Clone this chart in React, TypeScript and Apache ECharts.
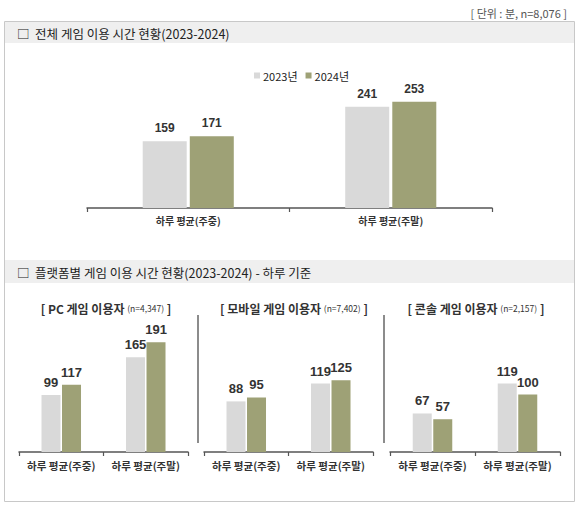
import React, { useEffect, useRef } from "react";
import * as echarts from "echarts";

const categories = ["하루 평균(주중)", "하루 평균(주말)"];
const years = ["2023년", "2024년"];
const overall2023 = [159, 241];
const overall2024 = [171, 253];
const pc2023 = [99, 165];
const pc2024 = [117, 191];
const mobile2023 = [88, 119];
const mobile2024 = [95, 125];
const console2023 = [67, 119];
const console2024 = [57, 100];
const platformNames = ["PC 게임 이용자", "모바일 게임 이용자", "콘솔 게임 이용자"];
const platformN = ["n=4,347", "n=7,402", "n=2,157"];
const headerTop = "□  전체 게임 이용 시간 현황(2023-2024)";
const headerBottom = "□  플랫폼별 게임 이용 시간 현황(2023-2024) - 하루 기준";
const unitText = "[ 단위 : 분, n=8,076 ]";

const GRAY = "#d9d9d9";
const GREEN = "#9ea176";
const FONT = "'Noto Sans CJK KR', sans-serif";
const NUMFONT = "'Liberation Sans', Arial, sans-serif";

export default function App() {
  const ref = useRef<HTMLDivElement>(null);
  useEffect(() => {
    document.body.style.margin = "0";
    const chart = echarts.init(ref.current!, null, { renderer: "svg" });

    const grids = [
      { left: 87, width: 405, top: 82, height: 126 },
      { left: 19, width: 169, top: 337, height: 115 },
      { left: 204, width: 169, top: 337, height: 115 },
      { left: 390, width: 170, top: 337, height: 115 },
    ];
    const maxes = [300, 200, 200, 200];
    const data = [
      [overall2023, overall2024],
      [pc2023, pc2024],
      [mobile2023, mobile2024],
      [console2023, console2024],
    ];

    const xAxes = grids.map((_, i) => ({
      type: "category",
      gridIndex: i,
      data: categories,
      axisLine: { lineStyle: { color: "#555", width: 1.5 } },
      axisTick: { show: true, length: 4, lineStyle: { color: "#555", width: 1.2 } },
      axisLabel: {
        interval: 0,
        hideOverlap: false,
        margin: i === 0 ? 7 : 8,
        color: "#333",
        fontSize: i === 0 ? 10 : 10.5,
        fontWeight: "bold",
        fontFamily: FONT,
      },
    }));
    const yAxes = grids.map((_, i) => ({
      type: "value",
      gridIndex: i,
      min: 0,
      max: maxes[i],
      show: false,
      splitLine: { show: false },
    }));

    const series: any[] = [];
    data.forEach((pair, i) => {
      pair.forEach((vals, j) => {
        series.push({
          type: "bar",
          name: years[j],
          xAxisIndex: i,
          yAxisIndex: i,
          data: vals,
          barWidth: i === 0 ? 44 : 19,
          barGap: i === 0 ? "7%" : "8%",
          itemStyle: { color: j === 0 ? GRAY : GREEN },
          label: {
            show: true,
            position: "top",
            distance: i === 0 ? 7 : 6,
            color: "#333",
            fontSize: i === 0 ? 12 : 13,
            fontWeight: "bold",
            fontFamily: NUMFONT,
          },
        });
      });
    });

    const titleCenters = [106, 294, 476];
    const graphic: any[] = [
      {
        type: "rect",
        shape: { x: 4.5, y: 21.5, width: 570, height: 480 },
        style: { fill: "#fff", stroke: "#c8c8c8", lineWidth: 1 },
        z: -10,
      },
      {
        type: "rect",
        shape: { x: 5, y: 22, width: 569, height: 21 },
        style: { fill: "#efefef" },
        z: -9,
      },
      {
        type: "rect",
        shape: { x: 5, y: 260, width: 569, height: 23 },
        style: { fill: "#efefef" },
        z: -9,
      },
      {
        type: "text",
        x: 17,
        y: 33,
        style: {
          text: headerTop,
          fill: "#222",
          font: `12.5px ${FONT}`,
          verticalAlign: "middle",
        },
      },
      {
        type: "text",
        x: 17,
        y: 272,
        style: {
          text: headerBottom,
          fill: "#222",
          font: `12.5px ${FONT}`,
          verticalAlign: "middle",
        },
      },
      {
        type: "text",
        x: 567,
        y: 13,
        style: {
          text: unitText,
          fill: "#555",
          font: `11px ${FONT}`,
          align: "right",
          verticalAlign: "middle",
        },
      },
      {
        type: "line",
        shape: { x1: 198, y1: 315, x2: 198, y2: 443 },
        style: { stroke: "#666", lineWidth: 1.5 },
      },
      {
        type: "line",
        shape: { x1: 384, y1: 315, x2: 384, y2: 443 },
        style: { stroke: "#666", lineWidth: 1.5 },
      },
    ];
    platformNames.forEach((name, k) => {
      graphic.push({
        type: "text",
        x: titleCenters[k],
        y: 308,
        style: {
          text: `{a|[ ${name} }{b|(${platformN[k]})}{a| ]}`,
          align: "center",
          verticalAlign: "middle",
          rich: {
            a: { fontSize: 12, fontWeight: "bold", fill: "#333", fontFamily: FONT },
            b: { fontSize: 8.5, fill: "#333", fontFamily: FONT },
          },
        },
      });
    });

    chart.setOption({
      animation: false,
      backgroundColor: "#fff",
      legend: {
        data: years,
        left: 249,
        top: 65,
        itemWidth: 6,
        itemHeight: 6,
        itemGap: 8,
        icon: "rect",
        textStyle: { fontSize: 11, color: "#222", fontFamily: FONT, padding: [0, 0, 0, -2] },
        selectedMode: false,
      },
      grid: grids,
      xAxis: xAxes,
      yAxis: yAxes,
      series,
      graphic,
    });
    return () => chart.dispose();
  }, []);
  return (
    <div
      ref={ref}
      style={{ width: 580, height: 506, position: "absolute", left: 0, top: 0 }}
    />
  );
}
